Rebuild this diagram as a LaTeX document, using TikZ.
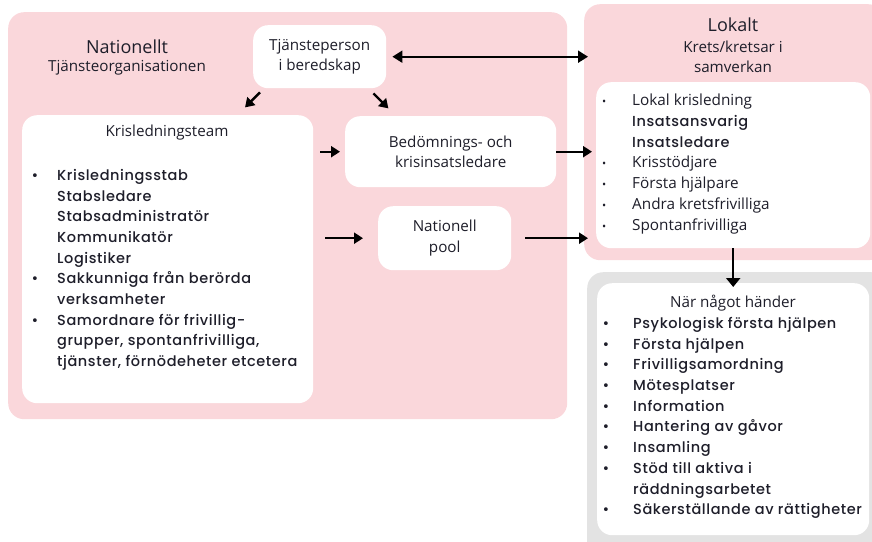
\documentclass[tikz,border=0pt]{standalone}
\usepackage{fontspec}
\setmainfont{Open Sans}
\newfontfamily\listfont{Poppins Medium}[LetterSpace=4]
\usetikzlibrary{arrows.meta,positioning}
\definecolor{regpink}{RGB}{250,215,219}
\definecolor{reggray}{RGB}{227,227,227}
\definecolor{inkdark}{RGB}{30,30,42}
% hanging bullet, gap to the text as optional argument
\newcommand{\bl}[1][19pt]{\llap{\textbullet\hspace{#1}}}
\newcommand{\sbl}[1][26pt]{\llap{{\fontsize{11}{11}\selectfont\textbullet}\hspace{#1}}}
\newcommand{\plain}{\rmfamily\fontsize{15.3}{20.7}\selectfont}

\begin{document}
\begin{tikzpicture}[x=1pt, y=-1pt,
    region/.style={rectangle, rounded corners=16pt, inner sep=0pt, anchor=north west},
    pinkreg/.style={region, fill=regpink},
    grayreg/.style={region, fill=reggray},
    whitebox/.style={region, fill=white, rounded corners=15pt},
    head/.style={text=inkdark, font=\fontsize{18}{22}\selectfont},
    subhead/.style={text=inkdark, align=center, font=\fontsize{15.2}{20.5}\selectfont},
    listtext/.style={text=inkdark, align=left, anchor=north west, inner sep=0pt,
      font=\listfont\fontsize{14.5}{20.7}\selectfont},
    arr/.style={-{Triangle[length=9pt,width=11pt]}, line width=2.4pt},
    darr/.style={{Triangle[length=10pt,width=12pt]}-{Triangle[length=10pt,width=12pt]}, line width=2pt}
]
    \useasboundingbox (0,0) rectangle (872,541);

    % Regions
    \node[pinkreg, minimum width=559pt, minimum height=407pt] (natreg) at (8,12) {};
    \node[pinkreg, minimum width=300pt, minimum height=256pt] (lokreg) at (584,4) {};
    \node[grayreg, minimum width=300pt, minimum height=290pt] (grayreg) at (587,272) {};

    % National side
    \node[head] (natl) at (127,47) {Nationellt};
    \node[subhead] (natorg) at (127,68) {Tjänsteorganisationen};
    \node[whitebox, minimum width=133pt, minimum height=63pt] (tjp) at (253,25) {};
    \node[subhead] (tjptext) at (tjp.center) {Tjänsteperson\\i beredskap};

    \node[whitebox, minimum width=291pt, minimum height=288pt] (krist) at (22,115) {};
    \node[subhead] (kristtitle) at (167,133) {Krisledningsteam};
    \node[listtext] (kristlist) at (57,169) {\bl Krisledningsstab\\Stabsledare\\Stabsadministratör\\Kommunikatör\\Logistiker\\
      \bl Sakkunniga från berörda\\verksamheter\\
      \bl Samordnare för frivillig-\\grupper, spontanfrivilliga,\\tjänster, förnödeheter etcetera};

    \node[whitebox, minimum width=211pt, minimum height=71pt] (bedom) at (345,116) {};
    \node[subhead] (bedomtext) at (bedom.center) {Bedömnings- och\\krisinsatsledare};
    \node[whitebox, minimum width=133pt, minimum height=64pt] (pool) at (378,206) {};
    \node[subhead] (pooltext) at (pool.center) {Nationell\\pool};

    % Local side
    \node[head] (lokhead) at (733,25) {Lokalt};
    \node[subhead] (lokorg) at (733,57) {Krets/kretsar i\\samverkan};
    \node[whitebox, minimum width=274pt, minimum height=166pt] (lokbox) at (596,82) {};
    \node[listtext] (loklist) at (632,94) {{\plain\sbl Lokal krisledning}\\Insatsansvarig\\Insatsledare\\
      {\plain\sbl Krisstödjare}\\{\plain\sbl Första hjälpare}\\
      {\plain\sbl Andra kretsfrivilliga}\\{\plain\sbl Spontanfrivilliga}};

    \node[whitebox, minimum width=272pt, minimum height=252pt] (whenbox) at (597,283) {};
    \node[subhead] (whentitle) at (733,303) {När något händer};
    \node[listtext] (whenlist) at (633,317) {\bl[24pt]Psykologisk första hjälpen\\\bl[24pt]Första hjälpen\\\bl[24pt]Frivilligsamordning\\
      \bl[24pt]Mötesplatser\\\bl[24pt]Information\\\bl[24pt]Hantering av gåvor\\\bl[24pt]Insamling\\
      \bl[24pt]Stöd till aktiva i\\räddningsarbetet\\\bl[24pt]Säkerställande av rättigheter};

    % Connections
    \draw[darr, shorten <=6pt, shorten >=-4pt] (tjp.east) -- (tjp.east -| lokreg.west);
    \draw[arr] ([xshift=7pt,yshift=-4pt]tjp.south west) -- ++(-15,15);
    \draw[arr] ([xshift=-13pt,yshift=-5pt]tjp.south east) -- ++(15,15);
    \draw[arr, shorten <=7pt, shorten >=5pt] (krist.east |- bedom.west) -- (bedom.west);
    \draw[arr, shorten <=12pt, shorten >=15pt] (krist.east |- pool.west) -- (pool.west);
    \draw[arr, shorten >=4pt] (bedom.east) -- (bedom.east -| lokbox.west);
    \draw[arr, shorten <=14pt, shorten >=8pt] (pool.east) -- (pool.east -| lokbox.west);
    \draw[arr, -{Triangle[length=9pt,width=14pt]}, shorten >=-4pt] (lokbox.south) -- (whenbox.north);
\end{tikzpicture}
\end{document}
